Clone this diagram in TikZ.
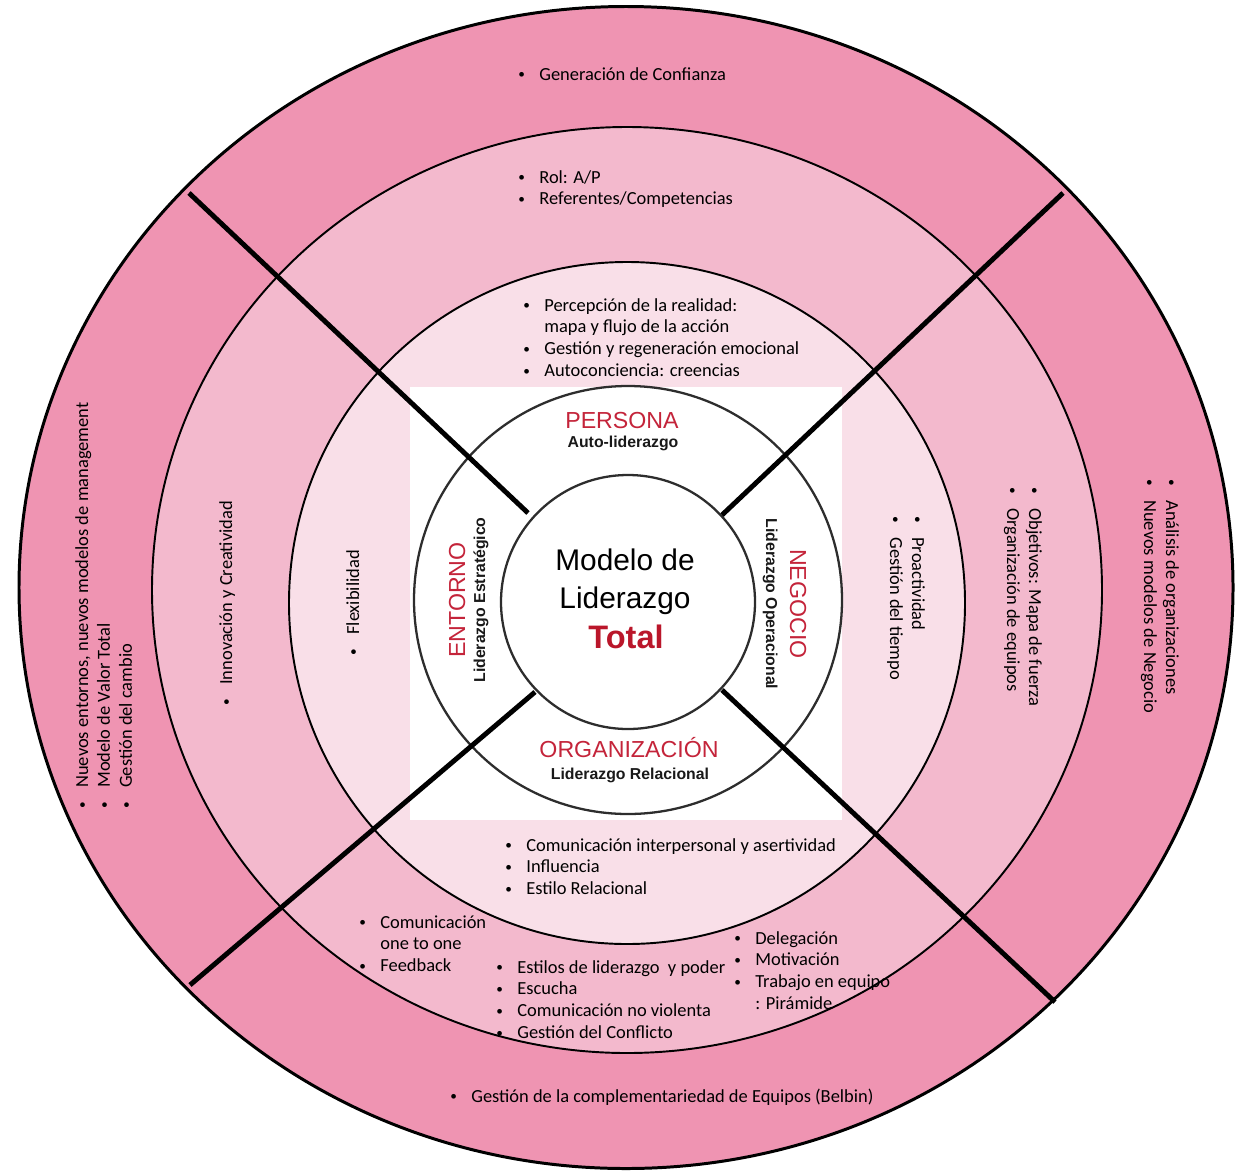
\documentclass[tikz,border=0pt]{standalone}
\usepackage{fontspec}
\setmainfont{Carlito}
\newfontfamily\arialfont{Liberation Sans}

\definecolor{ringOut}{RGB}{239,148,178}
\definecolor{ringMid}{RGB}{243,185,205}
\definecolor{ringIn}{RGB}{249,223,232}
\definecolor{redTxt}{RGB}{196,36,58}
\definecolor{totalRed}{RGB}{186,22,42}
\definecolor{greyLine}{RGB}{45,45,45}

\newcommand{\itm}{\llap{\raisebox{0.9pt}{\scalebox{0.72}{\textbullet}}\hspace{8.2pt}}}
\newcommand{\blist}[1]{\begin{tabular}[t]{@{}l@{}}#1\end{tabular}}

\tikzset{
  lst/.style={inner sep=0pt, anchor=base west, font=\fontsize{10.5}{12.5}\selectfont},
  ringline/.style={draw=black, line width=1.1pt},
  cross/.style={draw=black, line width=2.8pt},
  mtitle/.style={inner sep=0pt, anchor=base, text=redTxt, font=\arialfont\fontsize{13.2}{15}\selectfont},
  msub/.style={inner sep=0pt, anchor=base, text=black!90, font=\arialfont\bfseries\fontsize{9}{10}\selectfont},
}

\begin{document}
\begin{tikzpicture}[x=0.02cm, y=-0.02cm]
\useasboundingbox (0,0) rectangle (1236,1170);

% rings
\fill[ringOut] (626,587.5) ellipse [x radius=607, y radius=581];
\fill[ringMid] (627,590) ellipse [x radius=475, y radius=463];
\fill[ringIn] (627,603) ellipse [x radius=338, y radius=341];

% centre picture
\fill[white] (410,387) rectangle (842,820);
\draw[greyLine, line width=1.3pt] (628,600) circle [radius=214];
\draw[greyLine, line width=1.3pt] (628,602) circle [radius=127];

\node (persona) [mtitle] at (622,428) {PERSONA};
\node (autolid) [msub] at (623,447) {Auto-liderazgo};
\node (organiz) [mtitle] at (629,757) {ORGANIZACIÓN};
\node (relac) [msub] at (630,779) {Liderazgo Relacional};
\node (entorno) [mtitle, rotate=90] at (465,600) {ENTORNO};
\node (estrat) [msub, rotate=90] at (485,600) {Liderazgo Estratégico};
\node (negocio) [mtitle, rotate=-90] at (790,604) {NEGOCIO};
\node (operac) [msub, rotate=-90] at (766,604) {Liderazgo Operacional};

\node (modelo) [inner sep=0pt, anchor=base, font=\arialfont\fontsize{17}{20}\selectfont] at (625,570) {Modelo de};
\node (lidera) [inner sep=0pt, anchor=base, font=\arialfont\fontsize{17}{20}\selectfont] at (625,608) {Liderazgo};
\node (total) [inner sep=0pt, anchor=base, text=totalRed, font=\arialfont\bfseries\fontsize{18.5}{20}\selectfont] at (626,648) {Total};

% top
\node (confi) [lst] at (539,80) {\blist{\itm Generación de Confianza}};
\node (rol) [lst] at (539,183) {\blist{\itm Rol: A/P\\ \itm Referentes/Competencias}};
\node (percep) [lst] at (544,311) {\blist{\itm Percepción de la realidad:\\ mapa y flujo de la acción\\ \itm Gestión y regeneración emocional\\ \itm Autoconciencia: creencias}};

% bottom
\node (interp) [lst] at (526,851) {\blist{\itm Comunicación interpersonal y asertividad\\ \itm Influencia\\ \itm Estilo Relacional}};
\node (oneone) [lst] at (380,928) {\blist{\itm Comunicación\\ one to one\\ \itm Feedback}};
\node (estilos) [lst] at (517,973) {\blist{\itm Estilos de liderazgo\ \ y poder\\ \itm Escucha\\ \itm Comunicación no violenta\\ \itm Gestión del Conflicto}};
\node (deleg) [lst] at (755,944) {\blist{\itm Delegación\\ \itm Motivación\\ \itm Trabajo en equipo\\ : Pirámide}};
\node (belbin) [lst] at (471,1102) {\blist{\itm Gestión de la complementariedad de Equipos (Belbin)}};

% left
\node (nuevos) [lst, rotate=90] at (88,788) {\blist{\itm Nuevos entornos, nuevos modelos de management\\ \itm Modelo de Valor Total\\ \itm Gestión del cambio}};
\node (innov) [lst, rotate=90] at (232,685) {\blist{\itm Innovación y Creatividad}};
\node (flexi) [lst, rotate=90] at (359,635) {\blist{\itm Flexibilidad}};

% right
\node (proac) [lst, rotate=-90] at (912,537) {\blist{\itm Proactividad\\ \itm Gestión del tiempo}};
\node (objet) [lst, rotate=-90] at (1029,508) {\blist{\itm Objetivos: Mapa de fuerza\\ \itm Organización de equipos}};
\node (analis) [lst, rotate=-90] at (1166,500) {\blist{\itm Análisis de organizaciones\\ \itm Nuevos modelos de Negocio}};

% ring borders
\draw[black, line width=1.7pt] (626,587.5) ellipse [x radius=607, y radius=581];
\draw[ringline] (627,590) ellipse [x radius=475, y radius=463];
\draw[ringline] (627,603) ellipse [x radius=338, y radius=341];

% cross
\coordinate (tlOut) at (189,193);
\coordinate (tlIn) at (528,513);
\coordinate (trOut) at (1063,193);
\coordinate (trIn) at (722,515);
\coordinate (blOut) at (190,985);
\coordinate (blIn) at (535,692);
\coordinate (brOut) at (1055,1002);
\coordinate (brIn) at (722,690);
\draw[cross] (tlOut) -- (tlIn);
\draw[cross] (trOut) -- (trIn);
\draw[cross] (blOut) -- (blIn);
\draw[cross] (brOut) -- (brIn);
\end{tikzpicture}
\end{document}
